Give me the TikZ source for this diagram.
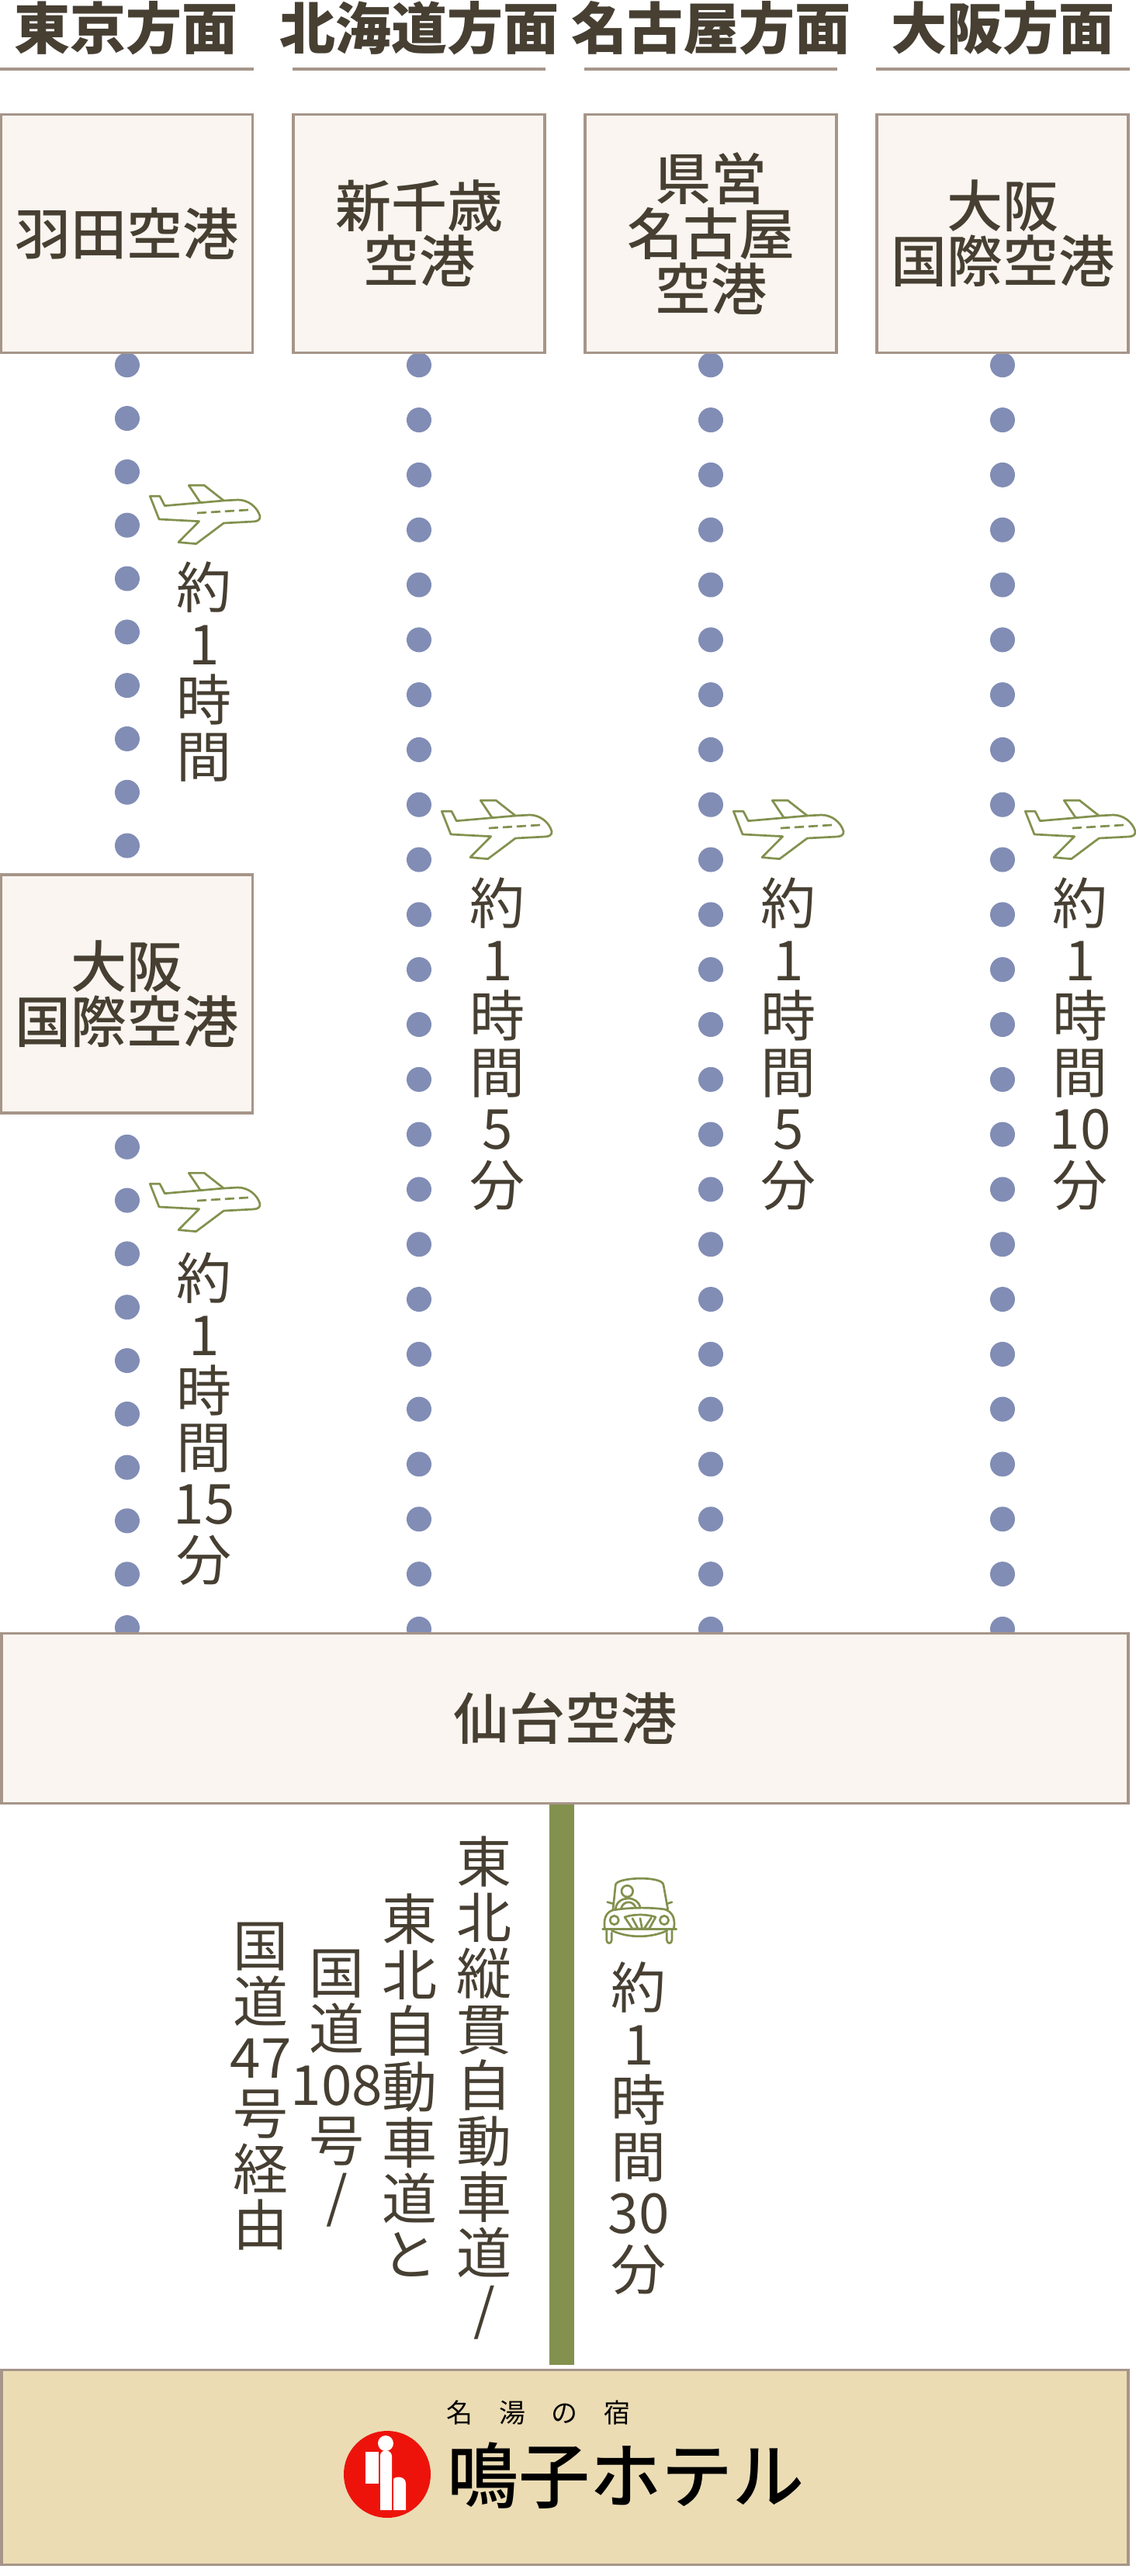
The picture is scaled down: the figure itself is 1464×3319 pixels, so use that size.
\documentclass[tikz,border=0pt]{standalone}
\usepackage{fontspec}
\setmainfont{Noto Sans CJK JP}
\newfontfamily\medcjk{Noto Sans CJK JP Medium}
\usetikzlibrary{backgrounds}
\definecolor{boxfill}{HTML}{FAF5F0}
\definecolor{boxline}{HTML}{A69589}
\definecolor{ink}{HTML}{463F32}
\definecolor{dotc}{HTML}{818DB5}
\definecolor{leaf}{HTML}{82914E}
\definecolor{sand}{HTML}{EBDCB4}
\definecolor{logored}{HTML}{ED130B}
\tikzset{
  x=1pt,y=-1pt,
  bigtext/.style={text=ink,font=\medcjk\fontsize{72}{71}\selectfont,align=center,inner sep=0pt},
  headtext/.style={bigtext,font=\fontsize{72}{71}\selectfont\bfseries},
  stack/.style={bigtext,font=\fontsize{71}{72}\selectfont},
  stacktime/.style={bigtext,font=\fontsize{71}{72.5}\selectfont,anchor=north},
  port/.style={bigtext,draw=boxline,fill=boxfill,line width=3.5pt,minimum width=324pt,minimum height=307pt},
  wide/.style={bigtext,draw=boxline,fill=boxfill,line width=3.5pt,minimum width=1452pt,minimum height=219pt},
  rulel/.style={draw=boxline,line width=3.5pt},
  dotsA/.style={draw=dotc,line width=32pt,line cap=round,dash pattern=on 0.01pt off 68.8pt,dash phase=54.8pt},
  dotsB/.style={draw=dotc,line width=32pt,line cap=round,dash pattern=on 0.01pt off 70.8pt,dash phase=56.8pt},
  road/.style={draw=leaf,line width=32pt},
  planeicon/.pic={
    \begin{scope}[scale=0.3333,draw=leaf,line width=2.7pt,line join=round,line cap=round]
      \draw (130,118) -- (168,118) -- (187,155) -- (325,143) -- (280,76) -- (340,76) -- (415,135)
        -- (470,132) .. controls (510,132) and (545,160) .. (555,195)
        .. controls (557,210) and (545,215) .. (530,216) -- (415,222) -- (308,302) -- (240,296) -- (320,215) -- (165,207) -- cycle;
      \draw (325,143) -- (415,135);
      \draw[dash pattern=on 12pt off 6pt,line cap=butt] (312,183) -- (525,170);
    \end{scope}
  },
  caricon/.pic={
    \begin{scope}[scale=0.3333,draw=leaf,line width=2.7pt,line join=round,line cap=round]
      \draw (150,180) -- (160,85) .. controls (165,55) and (340,50) .. (345,85) -- (362,180);
      \draw (118,255) .. controls (112,215) and (125,190) .. (150,183) .. controls (220,172) and (290,172) .. (350,180) .. controls (380,190) and (392,215) .. (385,255);
      \draw (110,257) -- (395,257);
      \draw (145,262) .. controls (210,292) and (295,292) .. (360,262);
      \draw (125,262) -- (125,298) .. controls (125,315) and (145,315) .. (145,298) -- (145,270);
      \draw (358,270) -- (358,298) .. controls (358,315) and (378,315) .. (378,298) -- (378,262);
      \draw (128,152) -- (150,158);
      \draw (378,152) -- (360,158);
      \draw (155,222) circle (17);
      \draw (348,222) circle (17);
      \draw (205,110) circle (22);
      \draw (160,178) .. controls (165,125) and (250,125) .. (255,175);
      \draw (182,175) .. controls (190,145) and (230,145) .. (238,175);
      \draw (195,210) .. controls (230,198) and (280,198) .. (315,210) -- (290,255) -- (225,255) -- cycle;
      \draw (225,215) -- (245,252);
      \draw (255,215) -- (262,252);
      \draw (298,213) -- (272,252);
    \end{scope}
  }
}
\newcommand{\hs}{\hspace{33.5pt}}
\begin{document}
\begin{tikzpicture}
\useasboundingbox (0,0) rectangle (1464,3319);
% headers
\node[headtext] (h1) at (163,36) {東京方面};
\node[headtext] (h2) at (540,36) {北海道方面};
\node[headtext] (h3) at (916,36) {名古屋方面};
\node[headtext] (h4) at (1292,36) {大阪方面};
\draw[rulel] (0,89) -- (327,89);
\draw[rulel] (377,89) -- (703,89);
\draw[rulel] (753,89) -- (1079,89);
\draw[rulel] (1129,89) -- (1456,89);
% airports
\node[port] (haneda) at (163.5,301) {羽田空港};
\node[port] (chitose) at (540,301) {新千歳\\空港};
\node[port] (nagoya) at (916,301) {県営\\名古屋\\空港};
\node[port] (osaka) at (1292,301) {大阪\\国際空港};
\node[port] (itami) at (163.5,1280.5) {大阪\\国際空港};
\node[wide] (sendai) at (728,2214) {仙台空港};
\node[draw=boxline,fill=sand,line width=3.5pt,minimum width=1452pt,minimum height=251pt,inner sep=0pt] (hotel) at (728,3179) {};
\coordinate (s1) at (163.5,2110);
\coordinate (s2) at (540,2110);
\coordinate (s3) at (916,2110);
\coordinate (s4) at (1292,2110);
\coordinate (roadtop) at (724,2325);
\coordinate (roadend) at (724,3047);
\begin{pgfonlayer}{background}
  \fill[white] (0,0) rectangle (1464,3319);
  \draw[dotsA] (haneda.south) -- (itami.north);
  \draw[dotsA,dash phase=26.8pt] (itami.south) -- (s1);
  \draw[dotsB] (chitose.south) -- (s2);
  \draw[dotsB] (nagoya.south) -- (s3);
  \draw[dotsB] (osaka.south) -- (s4);
\end{pgfonlayer}
\draw[road] (roadtop) -- (roadend);
% icons
\pic at (150,600) {planeicon};
\pic at (150,1486) {planeicon};
\pic at (526,1006) {planeicon};
\pic at (902,1006) {planeicon};
\pic at (1278,1006) {planeicon};
\pic at (740,2400) {caricon};
% times
\node[stacktime] (t1) at (263,724) {約\\1\\時\\間};
\node[stacktime] (t2) at (263,1614) {約\\1\\時\\間\\15\\分};
\node[stacktime] (t3) at (641,1131) {約\\1\\時\\間\\5\\分};
\node[stacktime] (t4) at (1016,1131) {約\\1\\時\\間\\5\\分};
\node[stacktime] (t5) at (1392,1131) {約\\1\\時\\間\\10\\分};
\node[stacktime] (t6) at (823,2528) {約\\1\\時\\間\\30\\分};
% road names
\node[stack] (r1) at (624,2690) {東\\北\\縦\\貫\\自\\動\\車\\道\\/};
\node[stack] (r2) at (528,2687) {東\\北\\自\\動\\車\\道\\と};
\node[stack] (r3) at (434,2691) {国\\道\\108\\号\\/};
\node[stack] (r4) at (336,2688) {国\\道\\47\\号\\経\\由};
% hotel logo
\fill[logored] (499,3188) circle (56);
\fill[white] (497,3148) circle (10);
\fill[white] (471,3159) rectangle (488,3200);
\fill[white] (490,3164) .. controls (490,3155) and (504,3155) .. (505,3164) -- (505,3234) -- (490,3234) -- cycle;
\fill[white] (507,3194) .. controls (510,3190) and (523,3190) .. (523,3200) -- (523,3234) -- (507,3234) -- cycle;
\node[text=black,font=\fontsize{34}{34}\selectfont,inner sep=0pt] (slogan) at (694,3109) {名\hs 湯\hs の\hs 宿};
\node[text=black,font=\medcjk\fontsize{92}{92}\selectfont,inner sep=0pt] (hotelname) at (806,3190) {鳴子ホテル};
\end{tikzpicture}
\end{document}
